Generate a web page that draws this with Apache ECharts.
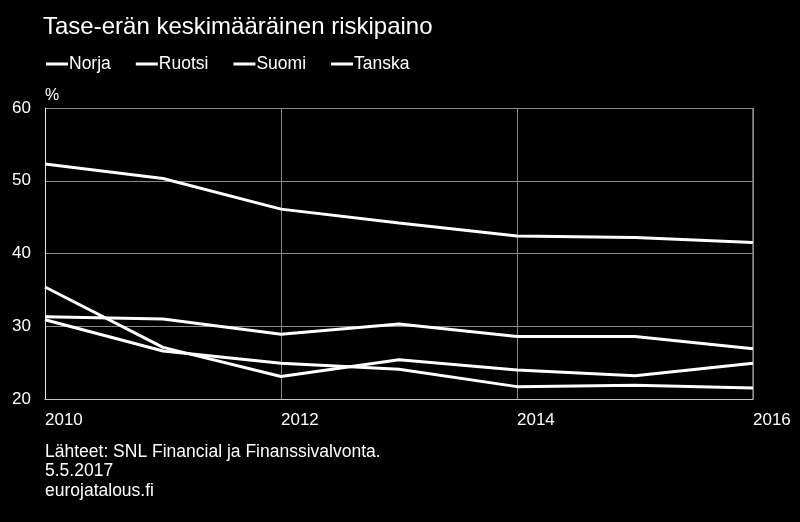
<!DOCTYPE html>
<html>
<head>
<meta charset="utf-8">
<script src="https://cdn.jsdelivr.net/npm/echarts@6/dist/echarts.min.js"></script>
<style>
html,body{margin:0;padding:0;background:#000;}
#chart{width:800px;height:522px;}
</style>
</head>
<body>
<div id="chart"></div>
<script>
var title = 'Tase-erän keskimääräinen riskipaino';
var years = [2010, 2011, 2012, 2013, 2014, 2015, 2016];
var seriesNames = ['Norja', 'Ruotsi', 'Suomi', 'Tanska'];
var norja = [52.3, 50.3, 46.1, 44.2, 42.4, 42.2, 41.5];
var ruotsi = [30.9, 26.6, 24.9, 24.1, 21.7, 21.9, 21.5];
var suomi = [35.4, 27.1, 23.1, 25.4, 24.0, 23.2, 24.9];
var tanska = [31.3, 31.0, 28.9, 30.3, 28.6, 28.6, 26.9];
var sourceLines = ['Lähteet: SNL Financial ja Finanssivalvonta.', '5.5.2017', 'eurojatalous.fi'];

var values = [norja, ruotsi, suomi, tanska];
var FONT = '"Liberation Sans", Arial, sans-serif';

function pairs(arr) {
  return years.map(function (y, i) { return [y, arr[i]]; });
}

var chart = echarts.init(document.getElementById('chart'), null, {renderer: 'canvas'});
chart.setOption({
  backgroundColor: '#000',
  animation: false,
  title: {
    text: title,
    left: 38,
    top: 10,
    textStyle: {color: '#fff', fontFamily: FONT, fontSize: 24, fontWeight: 'normal'}
  },
  legend: {
    left: 41,
    top: 50,
    icon: 'rect',
    itemWidth: 22,
    itemHeight: 3,
    itemGap: 25,
    data: seriesNames,
    textStyle: {color: '#fff', fontFamily: FONT, fontSize: 17.5, padding: [0, 0, 0, -4]}
  },
  grid: {left: 45, right: 47, top: 108, bottom: 123},
  xAxis: {
    type: 'value',
    min: 2010,
    max: 2016,
    interval: 2,
    axisLine: {show: true, lineStyle: {color: '#c8c8c8', width: 1}},
    axisTick: {show: false},
    splitLine: {show: true, lineStyle: {color: '#8a8a8a', width: 1}},
    axisLabel: {
      color: '#fff', fontFamily: FONT, fontSize: 17, align: 'left', margin: 13,
      formatter: function (v) { return String(v); }
    }
  },
  yAxis: {
    type: 'value',
    min: 20,
    max: 60,
    interval: 10,
    name: '%',
    nameLocation: 'end',
    nameGap: 4,
    nameTextStyle: {color: '#fff', fontFamily: FONT, fontSize: 16, align: 'left', verticalAlign: 'bottom', padding: [0, 0, 0, 0]},
    axisLine: {show: true, lineStyle: {color: '#e6e6e6', width: 1}},
    axisTick: {show: false},
    splitLine: {show: true, lineStyle: {color: '#8a8a8a', width: 1}},
    axisLabel: {color: '#fff', fontFamily: FONT, fontSize: 17, margin: 14}
  },
  graphic: [
    {
      type: 'line',
      shape: {x1: 753, y1: 108, x2: 753, y2: 399},
      style: {stroke: '#c8c8c8', lineWidth: 1}
    },
    {
      type: 'text',
      left: 45,
      top: 442,
      style: {
        text: sourceLines.join('\n'),
        fill: '#fff',
        font: '17.5px ' + FONT,
        lineHeight: 19.5
      }
    }
  ],
  series: seriesNames.map(function (name, i) {
    return {
      name: name,
      type: 'line',
      data: pairs(values[i]),
      symbol: 'none',
      smooth: false,
      lineStyle: {color: '#fff', width: 3},
      itemStyle: {color: '#fff'}
    };
  })
});
</script>
</body>
</html>
